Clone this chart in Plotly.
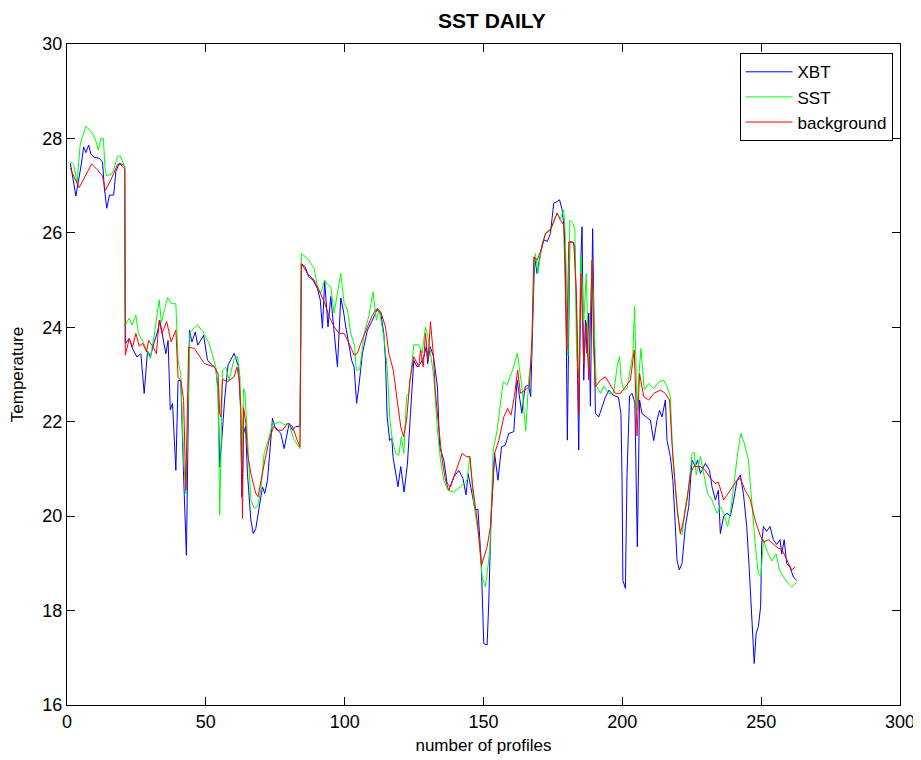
import plotly.graph_objects as go

# XBT (blue)
xbt_x = [1.2, 3.2, 5.0, 6.0, 6.8, 7.8, 8.6, 9.8, 11.6, 12.8, 13.4, 14.3, 15.3, 16.8, 17.6, 18.8, 20.0, 20.8,
         21.0, 22.4, 23.6, 25.2, 26.6, 27.8, 29.0, 30.0, 31.4, 32.6, 33.4, 34.4, 35.6, 36.4, 37.2, 38.0, 39.2,
         40.0, 41.0, 42.0, 43.0, 44.1, 45.0, 46.2, 47.1, 49.2, 50.6, 52.4, 53.6, 54.4, 55.0, 56.2, 56.8, 58.0,
         60.2, 61.8, 62.5, 63.0, 63.6, 64.3, 65.0, 66.2, 67.1, 68.0, 69.2, 70.4, 71.2, 72.2, 73.2, 74.0, 74.8,
         76.0, 77.0, 78.2, 79.2, 80.0, 81.2, 82.4, 83.9, 84.4, 85.8, 87.0, 88.6, 90.2, 91.2, 92.0, 92.8, 93.4,
         94.0, 95.0, 95.8, 96.5, 97.4, 98.6, 99.5, 100.4, 101.4, 102.5, 103.4, 104.3, 105.2, 106.4, 108.2,
         110.0, 111.8, 113.0, 114.1, 114.7, 115.3, 116.2, 117.0, 117.4, 119.2, 120.2, 121.4, 122.6, 123.7,
         124.9, 126.1, 127.3, 128.5, 129.4, 129.9, 130.8, 132.0, 133.4, 134.2, 135.7, 136.9, 138.1, 139.3,
         141.1, 142.6, 143.7, 144.5, 146.0, 147.0, 148.0, 149.2, 150.1, 151.3, 151.9, 152.7, 154.0, 155.2,
         156.5, 157.8, 159.1, 160.9, 162.1, 162.9, 163.8, 165.0, 166.2, 167.0, 167.7, 168.4, 169.3, 170.5,
         171.7, 173.0, 174.1, 175.3, 176.5, 177.4, 178.3, 179.0, 179.5, 180.2, 181.1, 182.2, 182.9, 183.5,
         184.3, 185.0, 185.5, 186.1, 186.7, 187.3, 187.9, 188.5, 189.3, 189.7, 190.3, 191.5, 192.7, 193.9,
         195.2, 196.7, 198.6, 199.5, 199.9, 200.2, 201.1, 201.7, 202.6, 203.5, 204.5, 205.4, 206.2, 207.1,
         208.6, 210.1, 211.3, 212.5, 213.4, 214.3, 215.5, 216.1, 217.3, 218.2, 219.1, 219.7, 220.5, 221.5,
         222.7, 223.9, 225.1, 226.3, 227.1, 228.1, 229.9, 231.4, 232.3, 233.5, 234.6, 235.3, 236.5, 237.7,
         238.9, 240.1, 241.3, 242.5, 243.6, 244.8, 245.6, 246.2, 246.8, 247.5, 248.2, 249.0, 249.8, 250.2,
         250.8, 252.0, 253.2, 254.4, 255.6, 256.8, 257.4, 258.3, 259.2, 260.4, 261.6, 262.8]
xbt_y = [27.48, 26.78, 27.40, 27.82, 27.70, 27.86, 27.67, 27.60, 27.58, 27.50, 26.98, 26.52, 26.80, 26.80, 27.30,
         27.47, 27.45, 27.40,
         23.65, 23.76, 23.55, 23.37, 23.44, 22.60, 23.50, 23.37, 23.69, 23.90, 24.15, 23.80, 23.44, 23.72, 22.25,
         22.39, 20.97, 22.87, 22.87, 20.84, 19.17, 23.94, 23.69, 23.90, 23.62, 23.83, 23.30, 23.20, 23.12, 22.66,
         21.04, 22.00, 22.50, 23.20, 23.45, 23.16, 22.30, 20.41, 21.75, 21.90, 20.90, 19.92, 19.63, 19.74, 20.20,
         20.62, 20.48, 20.76, 21.47, 22.07, 21.90, 21.82, 21.75, 21.43, 21.75, 21.96, 21.82, 21.90, 21.90,
         25.35, 25.28, 25.07, 25.00, 24.82, 24.58, 23.98, 24.97, 24.44, 24.01, 24.65, 24.15, 23.76, 23.16, 24.62,
         24.37, 24.01, 23.66, 23.30, 23.16, 22.39, 22.80, 23.45, 23.94, 24.15, 24.40, 24.30, 23.87, 23.30, 22.10,
         21.60, 21.65, 21.26, 20.62, 21.05, 20.51, 21.10, 22.17, 23.30, 23.16, 23.23, 23.38, 23.59, 23.23, 23.59,
         23.38, 22.74, 21.47, 21.19, 20.69, 20.62, 20.83, 20.97, 20.80, 20.45, 20.90, 20.40, 20.13, 20.15, 19.00,
         17.30, 17.27, 18.18, 19.92, 21.33, 20.76, 21.47, 21.50, 21.75, 21.79, 22.88, 22.50, 22.18, 22.74, 22.78,
         22.53, 24.08, 25.49, 25.14, 25.56, 25.85, 25.82, 25.99, 26.63, 26.66, 26.70, 26.49, 26.13, 25.49, 21.61,
         25.81, 25.80, 25.70, 24.30, 21.40, 25.35, 26.13, 22.88, 24.15, 23.45, 24.30, 22.33, 26.09, 24.05, 22.18,
         22.10, 22.33, 22.52, 22.67, 22.56, 22.52, 22.17, 20.76, 18.64, 18.47, 20.90, 22.55, 22.60, 22.40, 19.35,
         22.46, 22.17, 22.10, 22.03, 21.60, 22.03, 22.24, 22.10, 22.46, 21.60, 21.26, 20.76, 19.78, 19.07, 18.86,
         19.00, 19.78, 20.20, 21.19, 21.05, 21.19, 20.90, 21.12, 20.97, 20.62, 20.34, 20.55, 19.63, 20.00, 20.06,
         20.00, 20.34, 20.76, 20.87, 20.48, 19.78, 19.00, 18.29, 17.66, 16.88, 17.52, 17.66, 18.08, 19.43, 19.78,
         19.68, 19.78, 19.50, 19.40, 19.50, 19.20, 19.50, 19.00, 18.92, 18.71, 18.64]

# SST (green)
sst_x = [1.2, 2.4, 3.6, 4.8, 6.8, 9.2, 10.4, 11.3, 12.2, 13.1, 13.7, 14.3, 16.4, 18.2, 19.2, 20.0, 20.7,
         21.0, 22.4, 23.4, 24.8, 25.7, 27.3, 30.0, 31.4, 33.2, 34.0, 36.2, 37.7, 39.2, 40.0, 41.0, 42.0, 42.8,
         43.8, 44.3, 47.0, 49.0, 51.2, 53.6, 54.4, 55.0, 56.0, 57.2, 58.4, 60.2, 61.4, 62.3, 62.8, 63.6, 64.1,
         65.0, 66.2, 67.4, 68.6, 69.8, 71.0, 72.5, 74.2, 75.2, 76.4, 78.2, 80.0, 81.5, 83.9, 84.4, 86.6, 89.0,
         90.2, 91.4, 92.8, 93.8, 95.0, 96.2, 97.4, 98.6, 99.8, 101.0, 102.2, 103.6, 104.2, 105.4, 107.0, 108.8,
         110.2, 111.4, 112.4, 114.1, 115.3, 116.3, 117.2, 118.4, 119.5, 120.4, 121.3, 122.3, 123.1, 124.3,
         124.9, 126.7, 127.9, 129.1, 130.0, 130.9, 132.1, 133.3, 134.5, 135.7, 137.2, 139.3, 141.7, 144.1,
         145.1, 146.5, 148.3, 149.5, 150.7, 152.3, 153.5, 154.9, 157.1, 158.5, 160.5, 162.2, 163.9, 165.2,
         166.3, 167.3, 168.1, 168.7, 169.6, 171.1, 172.9, 174.7, 175.9, 176.5, 177.7, 178.9, 179.5, 180.1,
         180.4, 181.1, 182.2, 182.9, 183.5, 184.3, 185.1, 186.1, 187.0, 187.9, 189.1, 189.7, 190.6, 192.1,
         193.3, 195.1, 196.9, 198.1, 199.0, 199.6, 200.5, 201.7, 202.9, 203.8, 204.4, 205.3, 205.9, 206.7,
         207.9, 209.5, 211.3, 213.1, 214.9, 216.1, 217.3, 218.2, 219.7, 220.9, 221.5, 222.7, 223.9, 225.1,
         225.9, 226.6, 228.1, 229.3, 230.7, 232.3, 234.1, 235.3, 236.5, 237.9, 238.9, 240.1, 241.5, 242.7,
         243.9, 245.4, 246.5, 247.8, 249.0, 249.9, 250.8, 252.0, 253.8, 255.4, 256.6, 258.0, 259.8, 261.0,
         261.9, 262.8]
sst_y = [27.51, 27.45, 27.05, 27.90, 28.26, 28.10, 27.95, 27.75, 28.00, 28.00, 27.35, 27.20, 27.27, 27.61,
         27.63, 27.50, 27.40,
         24.05, 24.19, 24.05, 24.26, 23.87, 23.70, 23.34, 23.83, 24.58, 24.10, 24.63, 24.50, 24.50, 23.30,
         23.00, 21.19, 20.48, 23.24, 23.90, 24.05, 23.90, 23.66, 23.16, 22.60, 20.02, 23.09, 23.16, 22.88,
         23.34, 23.38, 22.95, 21.00, 22.70, 22.63, 21.60, 20.35, 20.17, 20.20, 20.55, 21.33, 21.61, 22.00,
         21.96, 22.00, 21.94, 21.96, 21.65, 21.43, 25.56, 25.46, 25.25, 24.86, 24.72, 25.00, 24.90, 24.86,
         24.30, 24.72, 25.14, 24.51, 24.37, 23.87, 23.59, 23.09, 23.10, 23.87, 24.26, 24.75, 24.15, 24.37,
         23.80, 23.16, 22.03, 21.60, 21.33, 21.29, 21.68, 21.33, 22.53, 22.60, 23.23, 23.63, 23.63, 23.45,
         24.01, 23.80, 23.45, 22.95, 21.90, 21.19, 20.76, 20.55, 20.51, 20.62, 20.76, 21.26, 20.27, 19.56,
         18.71, 18.50, 19.28, 21.40, 21.82, 22.85, 22.78, 23.10, 23.45, 22.70, 21.80, 22.90, 23.40, 25.21,
         25.56, 25.14, 25.78, 26.03, 26.13, 26.30, 26.42, 26.30, 26.49, 25.92, 24.37, 23.40, 26.27, 26.20,
         26.06, 23.50, 22.95, 25.49, 24.10, 25.14, 23.16, 25.42, 24.30, 22.77, 22.60, 22.75, 22.60, 22.60,
         23.16, 23.38, 22.88, 22.67, 22.70, 23.16, 23.45, 24.44, 22.24, 22.95, 23.55, 22.67, 22.81, 22.70,
         22.84, 22.88, 22.74, 22.53, 21.19, 20.20, 19.63, 19.60, 20.20, 20.62, 21.33, 21.35, 20.87, 21.26,
         20.90, 20.48, 20.34, 20.06, 20.20, 20.06, 19.78, 20.06, 20.62, 21.33, 21.75, 21.55, 21.20, 20.30,
         19.43, 18.78, 18.71, 19.50, 19.28, 19.05, 19.20, 18.86, 18.71, 18.57, 18.50, 18.55, 18.60]

# background (red)
bg_x = [1.2, 2.4, 4.4, 6.2, 8.9, 11.0, 12.8, 13.8, 15.8, 18.2, 19.4, 20.0, 20.8,
        21.0, 22.4, 23.6, 24.8, 26.0, 27.3, 28.6, 29.4, 31.0, 32.2, 33.2, 34.2, 35.9, 37.5, 39.2, 40.0, 41.0,
        42.0, 42.8, 43.8, 45.9, 49.5, 53.0, 54.4, 55.0, 55.4, 56.0, 57.8, 60.2, 61.2, 62.0, 62.6, 63.2, 63.6,
        64.4, 65.0, 66.2, 68.0, 68.8, 69.8, 71.0, 72.8, 74.4, 75.8, 77.6, 79.6, 81.2, 82.9, 83.9, 84.4, 86.6,
        89.0, 90.8, 92.6, 94.4, 96.2, 98.0, 99.8, 101.6, 103.4, 104.6, 105.8, 108.2, 110.0, 111.2, 113.0,
        114.7, 115.9, 117.5, 118.7, 120.2, 121.2, 122.3, 123.5, 124.9, 126.7, 127.3, 128.3, 129.1, 130.0,
        130.9, 131.9, 132.7, 134.0, 135.1, 136.3, 137.5, 139.3, 140.8, 142.3, 143.9, 145.1, 146.0, 147.7,
        149.3, 151.3, 152.5, 154.0, 155.5, 157.3, 158.7, 159.9, 161.1, 162.3, 163.3, 165.1, 166.5, 167.5,
        168.1, 169.3, 170.5, 172.3, 174.1, 175.3, 176.5, 177.7, 178.9, 179.6, 180.0, 180.7, 182.5, 183.5,
        184.3, 185.1, 186.1, 187.0, 187.9, 189.1, 189.7, 190.3, 192.1, 193.9, 195.7, 197.5, 199.3, 201.1,
        202.9, 204.3, 205.3, 206.2, 207.7, 209.5, 211.3, 213.7, 215.5, 217.0, 217.9, 219.1, 219.9, 220.9,
        222.1, 223.3, 224.5, 225.7, 228.1, 229.9, 231.4, 233.5, 234.6, 236.5, 237.7, 239.5, 241.3, 242.5,
        244.2, 246.0, 247.8, 249.6, 250.8, 252.6, 254.4, 256.2, 257.4, 259.2, 261.0, 262.2]
bg_y = [27.37, 27.20, 26.96, 27.15, 27.46, 27.33, 27.20, 26.90, 27.12, 27.45, 27.45, 27.40, 27.35,
        23.41, 23.76, 23.58, 23.87, 23.60, 23.66, 23.48, 23.72, 23.58, 23.44, 24.15, 23.87, 24.12, 23.69,
        23.94, 22.94, 22.87, 22.45, 20.55, 23.58, 23.55, 23.23, 23.16, 23.02, 22.17, 22.10, 22.90, 22.85,
        22.95, 23.16, 22.90, 22.30, 19.95, 22.30, 21.96, 21.33, 20.90, 20.48, 20.41, 20.76, 21.10, 21.61,
        21.90, 21.82, 21.82, 21.97, 21.90, 21.61, 21.47, 25.35, 25.14, 25.00, 24.76, 24.55, 24.23, 24.01,
        23.87, 23.87, 23.66, 23.41, 23.45, 23.66, 24.01, 24.26, 24.37, 24.33, 24.01, 23.45, 23.09, 22.53,
        21.89, 21.68, 22.03, 22.88, 23.38, 23.16, 23.52, 23.16, 23.87, 23.30, 24.12, 23.45, 22.60, 21.82,
        21.19, 20.76, 20.55, 20.83, 21.10, 21.33, 21.26, 21.26, 20.69, 19.92, 18.96, 19.35, 19.78, 21.33,
        21.60, 22.10, 22.28, 22.14, 22.53, 23.09, 22.60, 22.67, 22.74, 23.80, 25.49, 25.42, 25.60, 25.99,
        26.06, 26.24, 26.42, 26.27, 26.17, 24.51, 23.52, 25.81, 25.80, 24.65, 22.17, 25.14, 23.23, 24.10,
        22.88, 25.42, 23.52, 22.74, 22.88, 22.95, 22.77, 22.60, 22.60, 22.74, 22.88, 23.52, 21.70, 23.02,
        22.53, 22.46, 22.60, 22.67, 22.60, 22.46, 21.54, 20.62, 20.06, 19.63, 19.92, 20.34, 20.90, 21.05,
        21.05, 20.97, 20.83, 20.69, 20.72, 20.34, 20.45, 20.62, 20.76, 20.80, 20.55, 20.37, 19.92, 19.60,
        19.45, 19.50, 19.40, 19.32, 19.30, 19.07, 18.86, 18.92]

series = [
    ("XBT", xbt_x, xbt_y, "#0000ff"),
    ("SST", sst_x, sst_y, "#00ff00"),
    ("background", bg_x, bg_y, "#ff0000"),
]

fig = go.Figure()
for name, xs, ys, col in series:
    fig.add_trace(go.Scatter(x=xs, y=ys, mode="lines", name=name,
                             line=dict(color=col, width=1)))

font_family = "Liberation Sans, Arial, Helvetica, sans-serif"
axis_common = dict(showline=True, linecolor="black", linewidth=1, mirror="ticks",
                   ticks="inside", ticklen=8, tickcolor="black", showgrid=False,
                   zeroline=False, automargin=False,
                   tickfont=dict(size=18, color="black", family=font_family))

# page body has an 8px margin, so the figure is drawn 8px in from the window corner
fig.update_layout(
    width=913, height=752,
    margin=dict(l=59, r=21, t=36, b=55),
    paper_bgcolor="white", plot_bgcolor="white",
    font=dict(family=font_family, color="black"),
    title=dict(text="<b>SST DAILY</b>", x=0.530, xanchor="center", y=0.983, yanchor="middle",
               font=dict(size=21, color="black", family=font_family)),
    showlegend=True,
    legend=dict(x=0.991, y=0.986, xanchor="right", yanchor="top",
                bgcolor="white", bordercolor="black", borderwidth=1,
                itemwidth=47,
                font=dict(size=17, color="black", family=font_family)),
)
fig.update_xaxes(range=[0, 300], tickvals=[0, 50, 100, 150, 200, 250, 300],
                 title=dict(text="number of profiles", font=dict(size=17, family=font_family), standoff=8),
                 **axis_common)
fig.update_yaxes(range=[16, 30], tickvals=[16, 18, 20, 22, 24, 26, 28, 30],
                 title=dict(text="Temperature", font=dict(size=17, family=font_family), standoff=14),
                 **axis_common)

fig.write_html("out.html")
